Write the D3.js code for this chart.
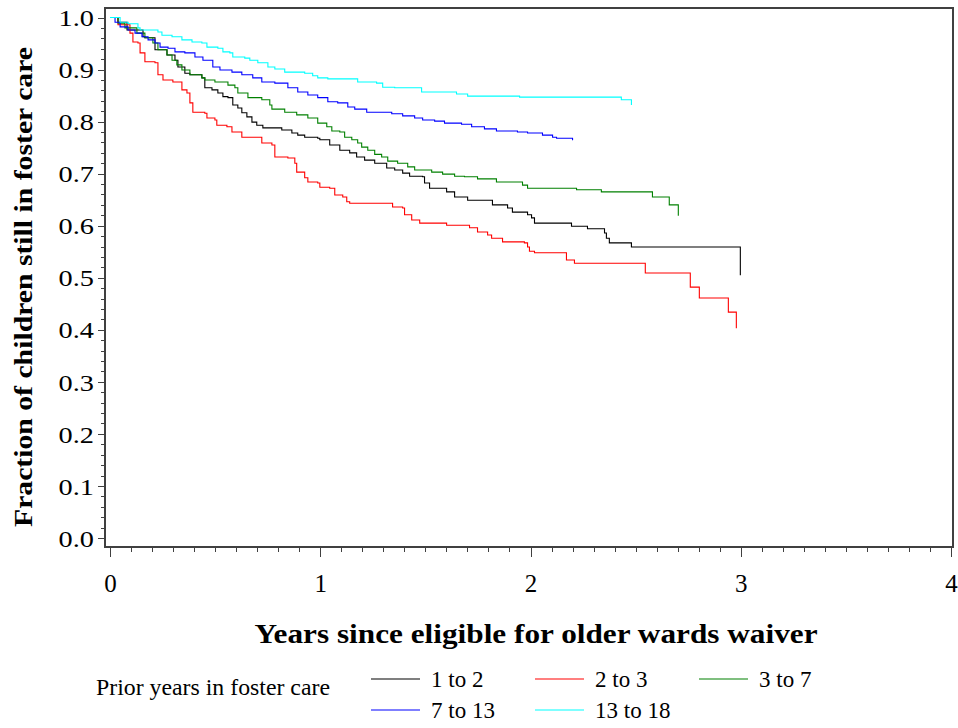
<!DOCTYPE html>
<html><head><meta charset="utf-8">
<script src="https://cdn.jsdelivr.net/npm/d3@7"></script>
<style>body{margin:0;background:#fff}</style>
</head><body><svg id="chart" width="958" height="728"></svg>
<script>
const groups = ["1 to 2", "2 to 3", "3 to 7", "7 to 13", "13 to 18"];
const colors = ["#000000", "#ff0000", "#008000", "#0000ff", "#00ffff"];
const xTickValues = [0, 1, 2, 3, 4];
const yTickValues = [0.0, 0.1, 0.2, 0.3, 0.4, 0.5, 0.6, 0.7, 0.8, 0.9, 1.0];
const xTitle = "Years since eligible for older wards waiver";
const yTitle = "Fraction of children still in foster care";
const legendTitle = "Prior years in foster care";

// Kaplan-Meier step points: [years, fraction after the step]
const curve1to2 = [[0,1],[0.038,0.991],[0.081,0.976],[0.157,0.963],[0.166,0.961],[0.214,0.938],[0.271,0.928],[0.309,0.918],[0.323,0.905],[0.356,0.893],[0.380,0.890],[0.437,0.884],[0.451,0.865],[0.485,0.861],[0.513,0.855],[0.537,0.848],[0.561,0.846],[0.584,0.832],[0.608,0.826],[0.627,0.817],[0.651,0.809],[0.675,0.799],[0.698,0.793],[0.727,0.788],[0.817,0.784],[0.865,0.778],[0.893,0.774],[0.926,0.770],[0.988,0.768],[0.998,0.765],[1.045,0.755],[1.093,0.745],[1.140,0.740],[1.173,0.732],[1.211,0.726],[1.259,0.720],[1.316,0.711],[1.354,0.707],[1.392,0.701],[1.425,0.695],[1.487,0.694],[1.496,0.682],[1.520,0.672],[1.601,0.665],[1.639,0.655],[1.701,0.649],[1.819,0.640],[1.891,0.634],[1.914,0.626],[1.986,0.621],[2.005,0.615],[2.019,0.605],[2.195,0.599],[2.271,0.594],[2.352,0.586],[2.361,0.576],[2.375,0.567],[2.480,0.559],[2.998,0.505]];
const curve2to3 = [[0,1],[0.038,0.986],[0.095,0.970],[0.109,0.953],[0.133,0.951],[0.143,0.932],[0.166,0.915],[0.214,0.913],[0.228,0.890],[0.252,0.880],[0.299,0.876],[0.342,0.861],[0.366,0.855],[0.380,0.836],[0.394,0.818],[0.451,0.816],[0.461,0.807],[0.499,0.803],[0.508,0.793],[0.556,0.790],[0.580,0.780],[0.627,0.770],[0.722,0.759],[0.770,0.755],[0.784,0.732],[0.846,0.730],[0.879,0.720],[0.888,0.703],[0.926,0.692],[0.941,0.684],[0.988,0.682],[0.998,0.674],[1.045,0.672],[1.069,0.659],[1.107,0.655],[1.126,0.646],[1.140,0.643],[1.344,0.636],[1.392,0.634],[1.401,0.621],[1.435,0.611],[1.473,0.605],[1.601,0.601],[1.710,0.596],[1.748,0.588],[1.796,0.582],[1.815,0.576],[1.867,0.569],[1.971,0.567],[1.986,0.559],[1.995,0.551],[2.019,0.548],[2.171,0.534],[2.209,0.528],[2.546,0.509],[2.760,0.482],[2.803,0.461],[2.941,0.434],[2.979,0.403]];
const curve3to7 = [[0,1],[0.038,0.989],[0.071,0.980],[0.128,0.970],[0.166,0.961],[0.204,0.951],[0.228,0.938],[0.271,0.928],[0.295,0.918],[0.318,0.909],[0.342,0.899],[0.380,0.890],[0.437,0.884],[0.451,0.880],[0.499,0.876],[0.561,0.870],[0.594,0.865],[0.608,0.855],[0.656,0.846],[0.722,0.842],[0.760,0.832],[0.770,0.824],[0.831,0.818],[0.888,0.813],[0.941,0.807],[0.988,0.797],[1.031,0.790],[1.055,0.782],[1.093,0.780],[1.116,0.770],[1.150,0.765],[1.178,0.759],[1.197,0.751],[1.226,0.745],[1.259,0.737],[1.292,0.732],[1.321,0.724],[1.368,0.720],[1.416,0.713],[1.449,0.707],[1.530,0.703],[1.582,0.699],[1.639,0.695],[1.686,0.694],[1.748,0.690],[1.838,0.684],[1.962,0.678],[1.986,0.672],[2.219,0.669],[2.337,0.665],[2.580,0.655],[2.660,0.640],[2.703,0.619]];
const curve7to13 = [[0,1],[0.024,0.991],[0.048,0.982],[0.086,0.976],[0.119,0.970],[0.152,0.963],[0.181,0.957],[0.214,0.951],[0.238,0.943],[0.276,0.941],[0.309,0.934],[0.356,0.932],[0.404,0.924],[0.442,0.918],[0.489,0.905],[0.523,0.899],[0.580,0.895],[0.627,0.890],[0.679,0.884],[0.722,0.876],[0.784,0.874],[0.846,0.865],[0.893,0.857],[0.941,0.851],[0.988,0.846],[1.036,0.838],[1.083,0.836],[1.131,0.828],[1.164,0.824],[1.221,0.818],[1.340,0.815],[1.392,0.811],[1.449,0.807],[1.487,0.803],[1.544,0.801],[1.591,0.797],[1.672,0.795],[1.720,0.790],[1.781,0.786],[1.838,0.782],[1.938,0.780],[1.986,0.778],[2.057,0.774],[2.105,0.770],[2.124,0.768],[2.200,0.764]];
const curve13to18 = [[0,1],[0.048,0.991],[0.086,0.988],[0.133,0.980],[0.143,0.976],[0.228,0.972],[0.247,0.966],[0.295,0.963],[0.342,0.957],[0.390,0.953],[0.437,0.951],[0.461,0.943],[0.513,0.941],[0.537,0.934],[0.570,0.932],[0.584,0.924],[0.641,0.922],[0.665,0.918],[0.703,0.913],[0.751,0.905],[0.784,0.901],[0.831,0.895],[0.926,0.893],[0.964,0.888],[0.988,0.884],[1.036,0.882],[1.178,0.876],[1.268,0.874],[1.297,0.866],[1.354,0.865],[1.482,0.857],[1.648,0.853],[1.701,0.849],[1.948,0.847],[2.432,0.842],[2.480,0.832]];
const allCurves = [curve1to2, curve2to3, curve3to7, curve7to13, curve13to18];

const svg = d3.select("#chart");
const serif = "'Liberation Serif','Times New Roman',serif";
const axisColor = "#404040";

const x = d3.scaleLinear().domain([0, 4]).range([110, 951]);
const y = d3.scaleLinear().domain([0, 1]).range([538, 17.5]);

// frame
const frame = {left: 105, top: 8, right: 953, bottom: 547};
svg.append("rect")
  .attr("x", frame.left).attr("y", frame.top)
  .attr("width", frame.right - frame.left).attr("height", frame.bottom - frame.top)
  .attr("fill", "none").attr("stroke", axisColor).attr("stroke-width", 1.5)
  .attr("shape-rendering", "crispEdges");

// x axis
const xMinor = d3.range(0, 41).map(i => i / 10).filter(v => Math.abs(v - Math.round(v)) > 1e-6);
const gxMinor = svg.append("g").attr("transform", `translate(0,${frame.bottom})`)
  .call(d3.axisBottom(x).tickValues(xMinor).tickSize(5).tickFormat(""));
const gx = svg.append("g").attr("transform", `translate(0,${frame.bottom})`)
  .call(d3.axisBottom(x).tickValues(xTickValues).tickSize(10).tickFormat(d3.format("d")));
[gxMinor, gx].forEach(g => {
  g.select(".domain").remove();
  g.selectAll("line").attr("stroke", axisColor).attr("shape-rendering", "crispEdges");
});
gx.selectAll("text").attr("y", 45).attr("dy", 0)
  .attr("font-family", serif).attr("font-size", 25).attr("fill", "#000");

// y axis
const yMinor = d3.range(0, 51).map(i => i / 50).filter(v => Math.abs(v * 10 - Math.round(v * 10)) > 1e-6);
const gyMinor = svg.append("g").attr("transform", `translate(${frame.left},0)`)
  .call(d3.axisLeft(y).tickValues(yMinor).tickSize(4).tickFormat(""));
const gy = svg.append("g").attr("transform", `translate(${frame.left},0)`)
  .call(d3.axisLeft(y).tickValues(yTickValues).tickSize(7).tickFormat(d3.format(".1f")));
[gyMinor, gy].forEach(g => {
  g.select(".domain").remove();
  g.selectAll("line").attr("stroke", axisColor).attr("shape-rendering", "crispEdges");
});
gy.selectAll("text").attr("x", 0).attr("dy", "0.34em")
  .attr("transform", "translate(-11,0) scale(1.18,1)")
  .attr("font-family", serif).attr("font-size", 24).attr("fill", "#000");

// curves
const line = d3.line().x(d => x(d[0])).y(d => y(d[1])).curve(d3.curveStepAfter);
svg.append("g").selectAll("path").data(allCurves).join("path")
  .attr("d", line).attr("fill", "none")
  .attr("stroke", (d, i) => colors[i]).attr("stroke-width", 1.1);

// titles
svg.append("text").attr("x", 536).attr("y", 643).attr("text-anchor", "middle")
  .attr("font-family", serif).attr("font-weight", "bold").attr("font-size", 27)
  .attr("textLength", 563).attr("lengthAdjust", "spacingAndGlyphs").text(xTitle);
svg.append("text").attr("transform", "translate(32,287) rotate(-90)").attr("text-anchor", "middle")
  .attr("font-family", serif).attr("font-weight", "bold").attr("font-size", 26)
  .attr("textLength", 480).attr("lengthAdjust", "spacingAndGlyphs").text(yTitle);

// legend
svg.append("text").attr("x", 96).attr("y", 695)
  .attr("font-family", serif).attr("font-size", 23)
  .attr("textLength", 234).attr("lengthAdjust", "spacingAndGlyphs").text(legendTitle);
const legCols = [371, 535, 699];
const legRows = [679, 710];
const leg = svg.append("g").selectAll("g").data(groups).join("g")
  .attr("transform", (d, i) => `translate(${legCols[i % 3]},${legRows[Math.floor(i / 3)]})`);
leg.append("line").attr("x1", 0).attr("x2", 49).attr("y1", 0).attr("y2", 0)
  .attr("stroke", (d, i) => colors[i]).attr("stroke-width", 1.2);
leg.append("text").attr("x", 60).attr("dy", "0.33em")
  .attr("font-family", serif).attr("font-size", 23).text(d => d);
</script></body></html>
